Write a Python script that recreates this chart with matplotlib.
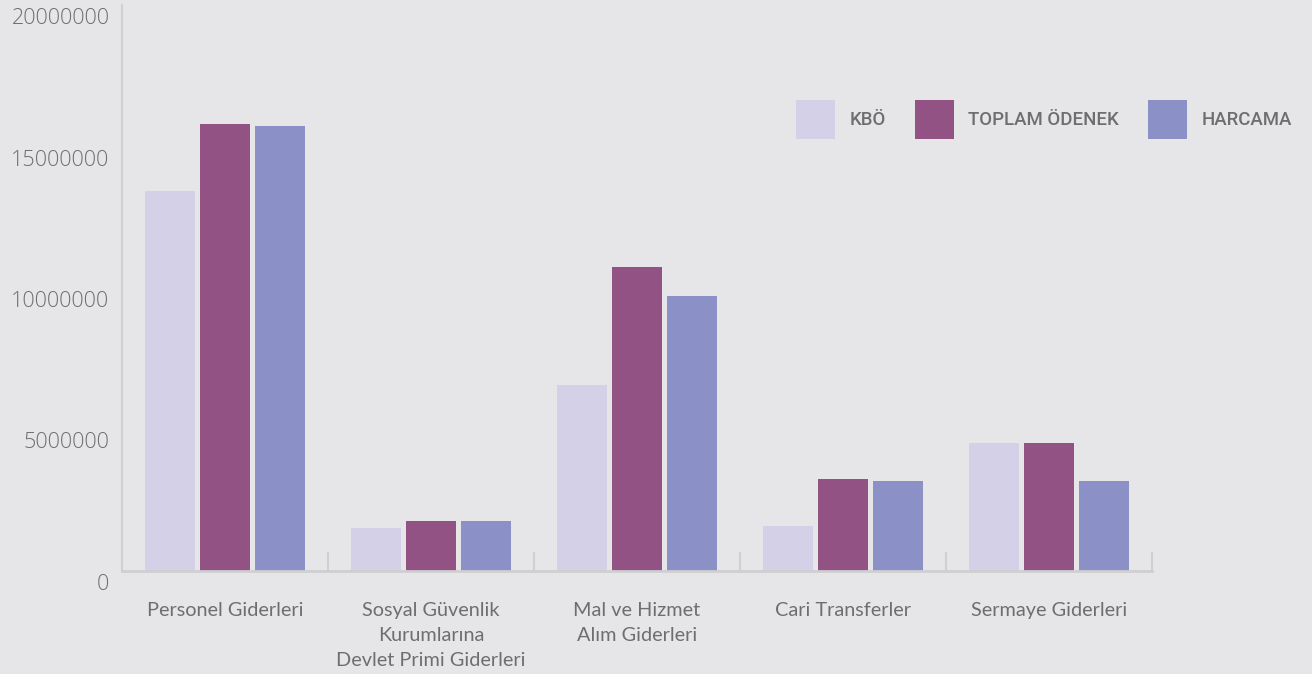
import matplotlib.pyplot as plt
import matplotlib.transforms as mtransforms
import numpy as np

# data
categories = ['Personel Giderleri',
              'Sosyal Güvenlik\nKurumlarına\nDevlet Primi Giderleri',
              'Mal ve Hizmet\nAlım Giderleri',
              'Cari Transferler',
              'Sermaye Giderleri']
kbo = [13440000, 1520000, 6560000, 1600000, 4540000]
toplam_odenek = [15800000, 1770000, 10740000, 3260000, 4540000]
harcama = [15740000, 1770000, 9720000, 3190000, 3190000]
series_names = ['KBÖ', 'TOPLAM ÖDENEK', 'HARCAMA']
yticks = [0, 5000000, 10000000, 15000000, 20000000]

colors = ['#d4d0e8', '#935284', '#8b90c7']
bg = '#e6e6e8'
text_col = '#6e6e70'
spine_col = '#cfcfd1'

fig = plt.figure(figsize=(13.12, 6.74), dpi=100, facecolor=bg)
ax = fig.add_axes([122 / 1312, 1 - 571 / 674, 1030 / 1312, 566 / 674])
ax.set_facecolor(bg)

x = np.arange(len(categories))
width = 50 / 206
step = 55 / 206
for i, vals in enumerate([kbo, toplam_odenek, harcama]):
    ax.bar(x + (i - 1) * step, vals, width, color=colors[i], label=series_names[i], zorder=2)

ax.set_xlim(-0.5, len(categories) - 0.5)
ax.set_ylim(0, 20000000)

# spines
for s in ['top', 'right']:
    ax.spines[s].set_visible(False)
ax.spines['left'].set_color(spine_col)
ax.spines['left'].set_linewidth(1.5)
ax.spines['bottom'].set_color(spine_col)
ax.spines['bottom'].set_linewidth(2)

# y ticks (labels sit a bit below their tick)
ax.set_yticks(yticks)
ax.set_yticklabels([str(v) for v in yticks], fontsize=15.5, color=text_col,
                   family='Open Sans', fontweight='light', va='top')
ax.tick_params(axis='y', length=0, pad=9)
shift = mtransforms.ScaledTranslation(0, -3 / 100, fig.dpi_scale_trans)
for lab in ax.get_yticklabels():
    lab.set_transform(lab.get_transform() + shift)

# x ticks: labels at centers, marks at boundaries
ax.set_xticks(x)
ax.set_xticklabels(categories, fontsize=14.3, color=text_col, family='Lato',
                   linespacing=1.6, va='top')
ax.tick_params(axis='x', which='major', length=0, pad=22)
ax.set_xticks(np.arange(len(categories)) + 0.5, minor=True)
ax.tick_params(axis='x', which='minor', direction='in', length=14, width=1.5, color=spine_col)

leg = ax.legend(ncol=3, loc='center left', bbox_to_anchor=(796 / 1312, 1 - 119.5 / 674),
                bbox_transform=fig.transFigure, frameon=False, borderpad=0, borderaxespad=0,
                handlelength=2.08, handleheight=2.85, handletextpad=0.8, columnspacing=1.55,
                prop={'family': 'Roboto', 'weight': 'medium', 'size': 13.4})
for t in leg.get_texts():
    t.set_color(text_col)

plt.savefig('out.png', dpi=100, facecolor=bg)
